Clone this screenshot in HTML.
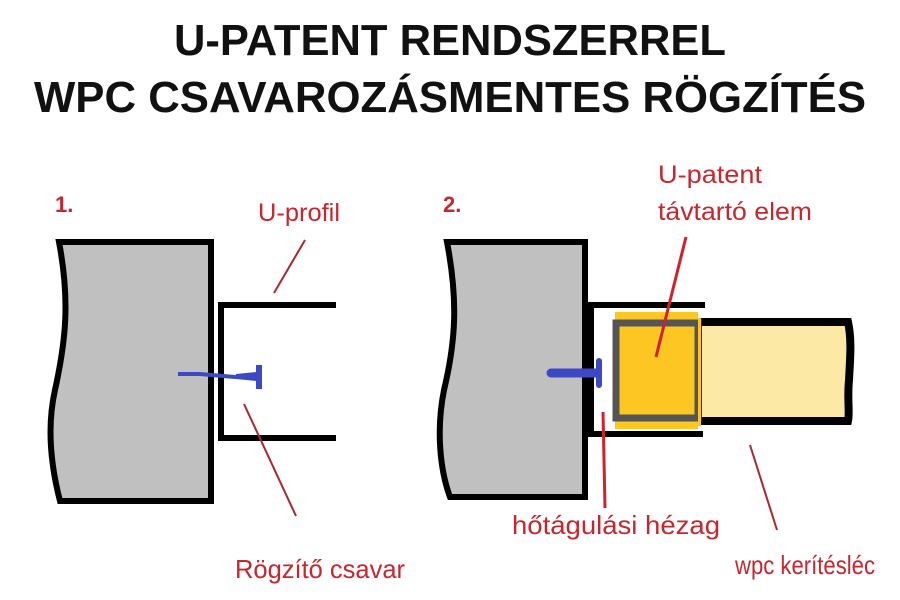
<!DOCTYPE html>
<html><head><meta charset="utf-8"><style>
html,body{margin:0;padding:0;background:#fff;width:900px;height:600px;overflow:hidden}
</style></head><body>
<svg width="900" height="600" viewBox="0 0 900 600" xmlns="http://www.w3.org/2000/svg" font-family="Liberation Sans, DejaVu Sans, sans-serif">
<text x="450" y="55" text-anchor="middle" font-size="44" font-weight="bold" fill="#111" textLength="552" lengthAdjust="spacingAndGlyphs">U-PATENT RENDSZERREL</text>
<text x="450" y="112" text-anchor="middle" font-size="44" font-weight="bold" fill="#111" textLength="832" lengthAdjust="spacingAndGlyphs">WPC CSAVAROZÁSMENTES RÖGZÍTÉS</text>

<!-- Panel 1 -->
<text x="55" y="212" font-size="22" font-weight="bold" fill="#c8262e">1.</text>
<path d="M59,242 L211,242 L211,501 L60,501 C52,470 46,430 55,390 C66,340 70,300 59,242 Z" fill="#c0c0c0" stroke="#000" stroke-width="6"/>
<path d="M336,305 L221,305 L221,438 L336,438" fill="none" stroke="#000" stroke-width="6"/>
<path d="M178,374 L200,374 L235,377 L250,375" stroke="#3d49c4" stroke-width="4" fill="none"/>
<path d="M236,374 L256,372 L256,381 L236,379 Z" fill="#3d49c4"/>
<rect x="256" y="365" width="6" height="24" fill="#3d49c4"/>
<line x1="305" y1="240" x2="274" y2="293" stroke="#a8282e" stroke-width="2"/>
<line x1="244" y1="404" x2="296" y2="516" stroke="#a8282e" stroke-width="2"/>
<text x="258" y="221" font-size="25" fill="#c8262e" textLength="82" lengthAdjust="spacingAndGlyphs">U-profil</text>
<text x="235" y="578" font-size="26" fill="#c8262e" textLength="170" lengthAdjust="spacingAndGlyphs">Rögzítő csavar</text>

<!-- Panel 2 -->
<text x="443" y="212" font-size="22" font-weight="bold" fill="#c8262e">2.</text>
<path d="M447,242 L585,242 L585,497 L450,497 C440,470 436,430 444,390 C456,340 458,300 447,242 Z" fill="#c0c0c0" stroke="#000" stroke-width="6"/>
<path d="M705,305 L591,305 L591,434 L703,434" fill="none" stroke="#000" stroke-width="6"/>
<path d="M698,322 L848,322 C852,340 850,360 849,380 C847,400 850,412 848,421 L698,421 Z" fill="#fde9a6" stroke="#000" stroke-width="8"/>
<rect x="615" y="312" width="83" height="117" fill="#fdc623"/>
<rect x="616" y="323" width="82" height="95" fill="none" stroke="#555" stroke-width="7"/>
<rect x="698" y="318" width="3" height="108" fill="#fdc623"/>
<line x1="551" y1="373" x2="596" y2="373" stroke="#3d49c4" stroke-width="9" stroke-linecap="round"/>
<rect x="596" y="358" width="6" height="30" rx="3" fill="#3d49c4"/>
<line x1="686" y1="237" x2="656" y2="357" stroke="#d0222c" stroke-width="3"/>
<line x1="603" y1="412" x2="605" y2="508" stroke="#d0222c" stroke-width="3"/>
<line x1="750" y1="445" x2="777" y2="530" stroke="#a8282e" stroke-width="2"/>
<text x="658" y="183" font-size="25" fill="#c8262e" textLength="104" lengthAdjust="spacingAndGlyphs">U-patent</text>
<text x="658" y="220" font-size="25" fill="#c8262e" textLength="154" lengthAdjust="spacingAndGlyphs">távtartó elem</text>
<text x="512" y="534" font-size="26" fill="#c8262e" textLength="208" lengthAdjust="spacingAndGlyphs">hőtágulási hézag</text>
<text x="735" y="574" font-size="26" fill="#c8262e" textLength="140" lengthAdjust="spacingAndGlyphs">wpc kerítésléc</text>
</svg>
</body></html>
